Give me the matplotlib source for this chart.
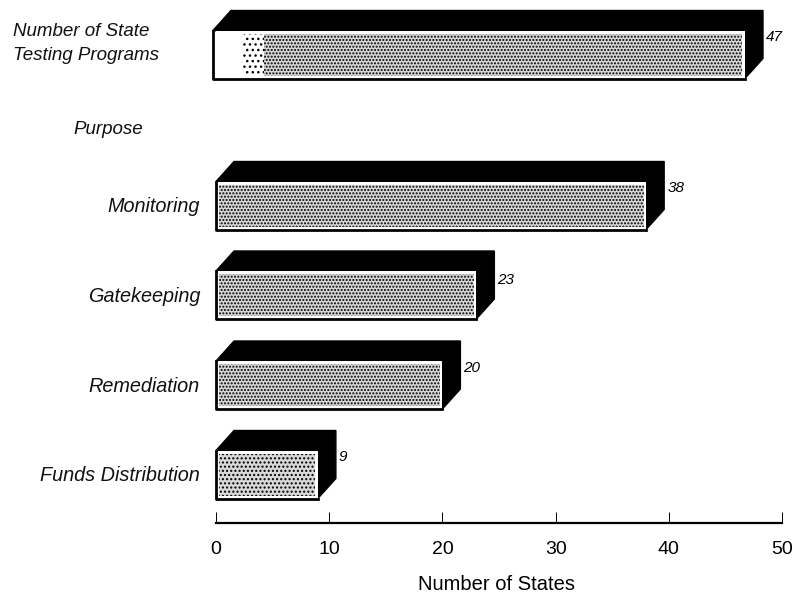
import matplotlib
matplotlib.use('Agg')
import matplotlib.pyplot as plt
from matplotlib.patches import Polygon

plt.rcParams['font.family'] = ['Liberation Sans', 'DejaVu Sans']
plt.rcParams['hatch.linewidth'] = 1.0

# values
categories = ['Monitoring', 'Gatekeeping', 'Remediation', 'Funds Distribution']
values = [38, 23, 20, 9]
total_label = ['Number of State', 'Testing Programs']
total_value = 47
x_ticks = [0, 10, 20, 30, 40, 50]

# layout, in pixels of the original
total_y = 54.5
centers = [205.5, 295, 385, 474.5]
bar_h = 48
depth_x, depth_y = 18, 20
px_x = 50 / (782 - 216)
dx = depth_x * px_x

fig = plt.figure(figsize=(8.01, 5.93), dpi=100)
ax = fig.add_axes([216 / 801, 1 - 522.5 / 593, (782 - 216) / 801, 522.5 / 593])
ax.set_xlim(0, 50)
ax.set_ylim(522.5, 0)
ax.patch.set_visible(False)


def draw_box(val, y, left, hatch, label_up):
    x0, x1 = left, left + val
    top, bot = y - bar_h / 2, y + bar_h / 2
    # black top and side of the box
    ax.add_patch(Polygon([(x0, top), (x0 + dx, top - depth_y), (x1 + dx, top - depth_y),
                          (x1 + dx, bot - depth_y), (x1, bot)],
                         closed=True, fc='black', ec='black', lw=1, clip_on=False))
    ax.barh(y, val, height=bar_h, left=x0, color='white', linewidth=0, zorder=2)
    # speckle stops a little short of the edges
    ax.barh(y, val - 5 * px_x, height=bar_h - 6, left=x0 + 2.5 * px_x, color='#d8d8d8',
            edgecolor='black', hatch=hatch, linewidth=0, zorder=3)
    # heavy outline on the left and bottom only
    ax.plot([x0, x0, x1], [top, bot, bot], color='black', lw=2, zorder=4, clip_on=False)
    ax.text(x1 + dx + 3 * px_x, top + label_up, str(val), style='italic', fontsize=11,
            va='center', ha='left', color='black')


dense = '.....'
sparse = '....'
draw_box(total_value, total_y, -0.27, dense, 6.5)
# first bar fades to white on the left
ax.barh(total_y, 2.4, height=bar_h - 4, left=0, color='white', linewidth=0, zorder=3.5)
ax.barh(total_y, 1.8, height=bar_h - 6, left=2.4, color='white', edgecolor='black',
        hatch='...', linewidth=0, zorder=3.5)

for val, y, hatch, up in zip(values, centers, [dense, dense, dense, sparse], [6.5, 9, 7, 6.5]):
    draw_box(val, y, 0, hatch, up)

text_color = '#111111'
fig.text(13 / 801, 1 - 32 / 593, total_label[0], style='italic', fontsize=13.5, va='center', color=text_color)
fig.text(13 / 801, 1 - 56 / 593, total_label[1], style='italic', fontsize=13.5, va='center', color=text_color)
fig.text(73 / 801, 1 - 130 / 593, 'Purpose', style='italic', fontsize=13.5, va='center', color=text_color)
for cat, y in zip(categories, centers):
    fig.text(200 / 801, 1 - (y + 1) / 593, cat, style='italic', fontsize=14.3, va='center', ha='right', color=text_color)

for s in ['top', 'left', 'right']:
    ax.spines[s].set_visible(False)
ax.spines['bottom'].set_linewidth(1.6)
ax.set_yticks([])
ax.set_xticks(x_ticks)
ax.tick_params(axis='x', direction='in', length=8, width=0.7, pad=13, labelsize=14)
ax.set_xlabel('Number of States', fontsize=14.5)
ax.xaxis.set_label_coords((497 - 216) / (782 - 216), -52 / 522.5)

fig.savefig('out.png', dpi=100)
